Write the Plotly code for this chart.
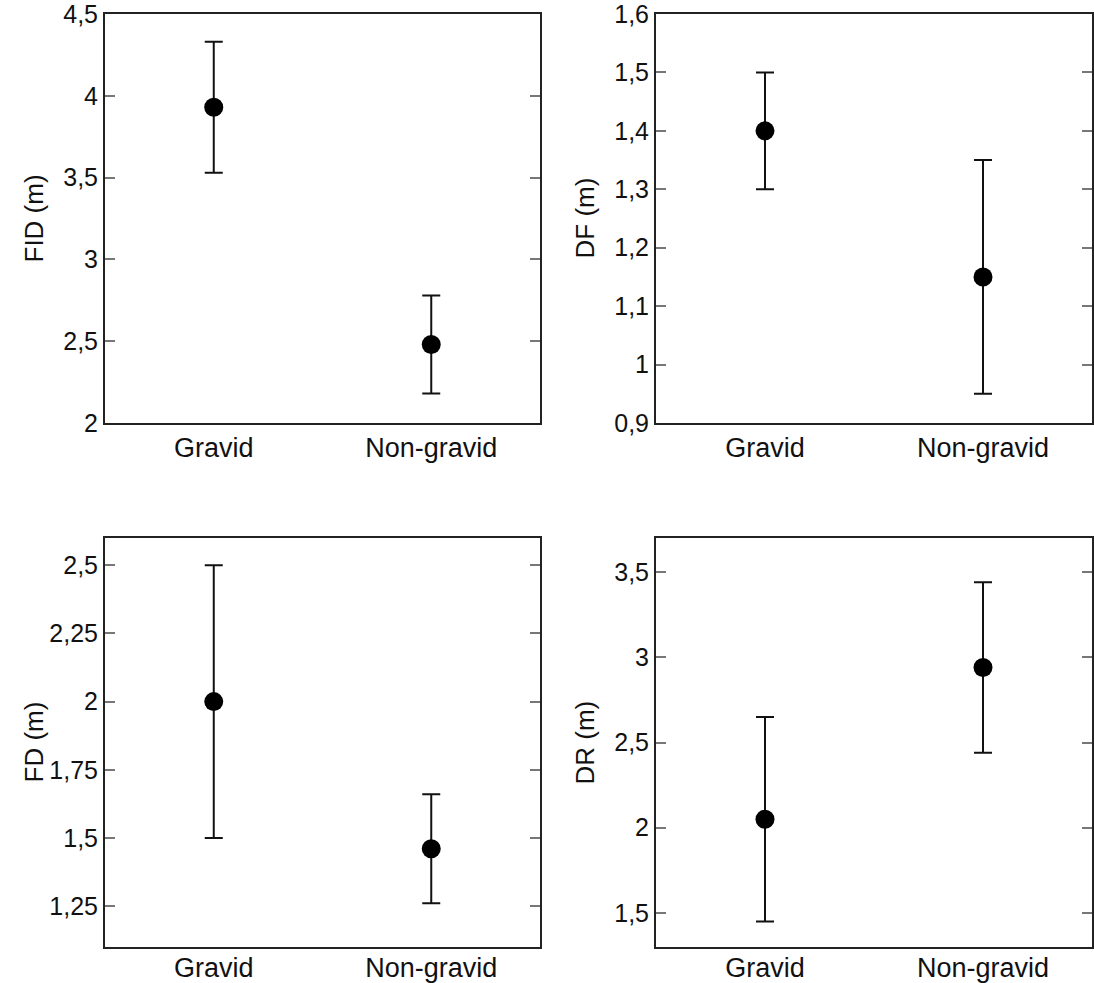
import plotly.graph_objects as go

categories = ["Gravid", "Non-gravid"]

fid_mean = [3.93, 2.48]
fid_err = [0.40, 0.30]
df_mean = [1.40, 1.15]
df_err = [0.10, 0.20]
fd_mean = [2.00, 1.46]
fd_err = [0.50, 0.20]
dr_mean = [2.05, 2.94]
dr_err = [0.60, 0.50]

fid_ticks = [2, 2.5, 3, 3.5, 4, 4.5]
fid_ticktext = ["2", "2,5", "3", "3,5", "4", "4,5"]
df_ticks = [0.9, 1.0, 1.1, 1.2, 1.3, 1.4, 1.5, 1.6]
df_ticktext = ["0,9", "1", "1,1", "1,2", "1,3", "1,4", "1,5", "1,6"]
fd_ticks = [1.25, 1.5, 1.75, 2.0, 2.25, 2.5]
fd_ticktext = ["1,25", "1,5", "1,75", "2", "2,25", "2,5"]
dr_ticks = [1.5, 2.0, 2.5, 3.0, 3.5]
dr_ticktext = ["1,5", "2", "2,5", "3", "3,5"]

panels = [
    ("FID (m)", fid_mean, fid_err, fid_ticks, fid_ticktext, [2, 4.5], [105, 540], [14, 423]),
    ("DF (m)", df_mean, df_err, df_ticks, df_ticktext, [0.9, 1.6], [656, 1092], [14, 423]),
    ("FD (m)", fd_mean, fd_err, fd_ticks, fd_ticktext, [1.1, 2.6], [105, 540], [538, 947]),
    ("DR (m)", dr_mean, dr_err, dr_ticks, dr_ticktext, [1.3, 3.7], [656, 1092], [538, 947]),
]

W, H = 1094, 983
fig = go.Figure()
FAM = "Liberation Sans, Arial, sans-serif"
ytickfont = dict(family=FAM, size=25, color="#111")
xtickfont = dict(family=FAM, size=27, color="#111")
titlefont = dict(family=FAM, size=26, color="#111")

for i, (title, mean, err, tv, tt, yr, xpx, ypx) in enumerate(panels):
    n = i + 1
    xa = "x" if n == 1 else f"x{n}"
    ya = "y" if n == 1 else f"y{n}"
    fig.add_trace(go.Scatter(
        x=[0, 1], y=mean, mode="markers", xaxis=xa, yaxis=ya,
        marker=dict(size=19, color="black"),
        error_y=dict(type="data", array=err, visible=True, thickness=2, width=9, color="#111"),
        showlegend=False, cliponaxis=False,
    ))
    xkey = "xaxis" if n == 1 else f"xaxis{n}"
    ykey = "yaxis" if n == 1 else f"yaxis{n}"
    fig.layout[xkey] = dict(
        domain=[xpx[0] / W, xpx[1] / W], anchor=ya, range=[-0.5, 1.5],
        tickvals=[0, 1], ticktext=categories, ticks="", showgrid=False, zeroline=False,
        showline=True, linecolor="#222", linewidth=2, mirror=True, automargin=False,
        tickfont=xtickfont, fixedrange=True, ticklabeloverflow="allow",
        ticklabelstandoff=(-4 if n > 2 else 0),
    )
    fig.layout[ykey] = dict(
        domain=[1 - ypx[1] / H, 1 - ypx[0] / H], anchor=xa, range=yr,
        tickvals=tv, ticktext=tt, ticks="inside", ticklen=10, tickwidth=1.5, tickcolor="#777",
        showgrid=False, zeroline=False, showline=True, linecolor="#222", linewidth=2,
        mirror="ticks", tickfont=ytickfont, automargin=False, ticklabelstandoff=0,
        ticklabeloverflow="allow",
    )
    fig.add_annotation(
        text=title, textangle=-90, xref="paper", yref="paper",
        x=(xpx[0] - 72) / W, y=1 - (ypx[0] + ypx[1]) / 2 / H,
        xanchor="center", yanchor="middle", showarrow=False, font=titlefont,
    )

fig.update_layout(
    template="none",
    width=W, height=H, margin=dict(l=0, r=0, t=0, b=0, pad=0),
    paper_bgcolor="white", plot_bgcolor="white", separators=",.",
)
fig.write_html(
    "out.html",
    config={"displayModeBar": False},
    post_script="document.body.style.margin='0';document.documentElement.style.overflow='hidden';document.body.style.overflow='hidden';",
)
